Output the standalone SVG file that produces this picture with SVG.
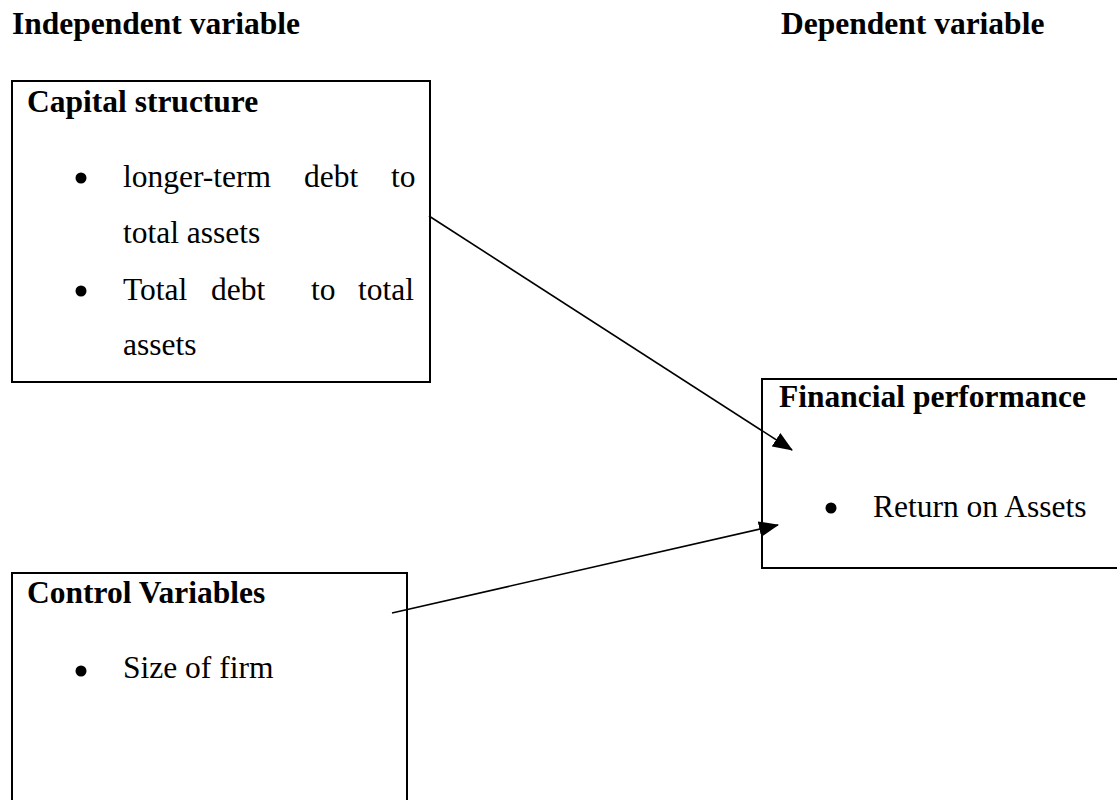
<svg xmlns="http://www.w3.org/2000/svg" width="1117" height="800" viewBox="0 0 1117 800">
<style>
.box{fill:#fff;stroke:#000;stroke-width:2}
.h{font-family:"Liberation Serif","Times New Roman",serif;font-weight:bold;font-size:31.5px;fill:#000}
.t{font-family:"Liberation Serif","Times New Roman",serif;font-size:31.5px;fill:#000}
.b{fill:#000}
.c{stroke:#000;stroke-width:1.6;fill:none;marker-end:url(#ah)}
</style>
<defs>
<marker id="ah" markerUnits="userSpaceOnUse" markerWidth="20" markerHeight="16" refX="19" refY="8" orient="auto">
<path d="M0,0 L20,8 L0,16 z" fill="#000"/>
</marker>
</defs>
<rect width="1117" height="800" fill="#fff"/>
<g id="headings">
<text class="h" x="12" y="34">Independent variable</text>
<text class="h" x="781" y="34">Dependent variable</text>
</g>
<g id="capital-structure">
<rect class="box" x="12" y="81" width="418" height="301"/>
<text class="h" x="27" y="112">Capital structure</text>
<circle class="b" cx="81" cy="178" r="5.5"/>
<text class="t" y="187"><tspan x="123">longer-term</tspan><tspan x="304">debt</tspan><tspan x="391">to</tspan></text>
<text class="t" x="123" y="243">total assets</text>
<circle class="b" cx="81" cy="291" r="5.5"/>
<text class="t" y="300"><tspan x="123">Total</tspan><tspan x="211">debt</tspan><tspan x="311">to</tspan><tspan x="358">total</tspan></text>
<text class="t" x="123" y="355">assets</text>
</g>
<g id="financial-performance">
<rect class="box" x="762" y="379" width="370" height="189"/>
<text class="h" x="779" y="407">Financial performance</text>
<circle class="b" cx="831" cy="508" r="5.5"/>
<text class="t" x="873" y="517">Return on Assets</text>
</g>
<g id="control-variables">
<rect class="box" x="12" y="573" width="395" height="250"/>
<text class="h" x="27" y="603">Control Variables</text>
<circle class="b" cx="81" cy="671" r="5.5"/>
<text class="t" x="123" y="678">Size of firm</text>
</g>
<g id="connectors">
<line class="c" x1="429" y1="216" x2="792" y2="450"/>
<line class="c" x1="392" y1="613" x2="778" y2="525"/>
</g>
</svg>
